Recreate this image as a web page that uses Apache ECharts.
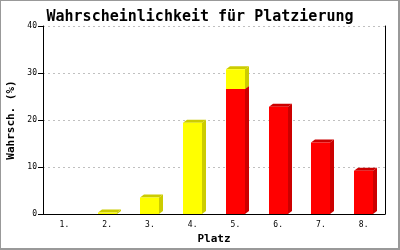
<!DOCTYPE html>
<html>
<head>
<meta charset="utf-8">
<script src="https://cdn.jsdelivr.net/npm/echarts@6/dist/echarts.min.js"></script>
<style>
html,body{margin:0;padding:0;background:#fff;}
#wrap{position:relative;width:400px;height:250px;}
#chart{position:absolute;left:0;top:0;width:400px;height:250px;}
#frame{position:absolute;left:0;top:0;width:400px;height:250px;box-sizing:border-box;border-left:1px solid #999;border-top:1px solid #999;border-right:2px solid #999;border-bottom:2px solid #999;pointer-events:none;}
</style>
</head>
<body>
<div id="wrap"><div id="chart"></div><div id="frame"></div></div>
<script>
var categories = ['1.', '2.', '3.', '4.', '5.', '6.', '7.', '8.'];
var redValues = [0, 0, 0, 0, 26.6, 22.8, 15.2, 9.2];
var yellowValues = [0, 0.3, 3.5, 19.4, 4.2, 0, 0, 0];
var yTicks = [0, 10, 20, 30, 40];

var FONT = '"DejaVu Sans Mono", "Liberation Mono", monospace';

function makeData(base, vals) {
  return vals.map(function (v, i) {
    var b = base ? base[i] : 0;
    return [i, b, b + v];
  });
}

function render3d(front, dark) {
  return function (params, api) {
    var i = api.value(0);
    var b = api.value(1);
    var t = api.value(2);
    if (t - b <= 0) return null;
    var p0 = api.coord([i, b]);
    var p1 = api.coord([i, t]);
    var w = 19, dx = 4, dy = 3;
    var left = Math.round(p0[0] - 9.5);
    var right = left + w;
    var bottom = p0[1];
    var top = p1[1];
    return {
      type: 'group',
      children: [
        { type: 'polygon', shape: { points: [[right, top], [right + dx, top - dy], [right + dx, bottom - dy], [right, bottom]] }, style: { fill: dark } },
        { type: 'polygon', shape: { points: [[left, top], [left + dx, top - dy], [right + dx, top - dy], [right, top]] }, style: { fill: dark } },
        { type: 'rect', shape: { x: left, y: top, width: w, height: bottom - top }, style: { fill: front } }
      ]
    };
  };
}

var chart = echarts.init(document.getElementById('chart'), null, { renderer: 'canvas' });
chart.setOption({
  animation: false,
  backgroundColor: '#fff',
  title: {
    text: 'Wahrscheinlichkeit für Platzierung',
    left: 'center',
    top: 5,
    textStyle: { fontFamily: FONT, fontSize: 15, fontWeight: 'bold', color: '#000' }
  },
  grid: { left: 43, right: 15, top: 26, bottom: 36, containLabel: false, outerBoundsMode: 'none' },
  xAxis: {
    type: 'category',
    data: categories,
    name: 'Platz',
    nameLocation: 'middle',
    nameGap: 19,
    nameTextStyle: { fontFamily: FONT, fontSize: 11, fontWeight: 'bold', color: '#000' },
    axisLine: { lineStyle: { color: '#000', width: 1 } },
    axisTick: { show: false },
    axisLabel: { fontFamily: FONT, fontSize: 8, color: '#000', margin: 7 },
    splitLine: { show: false }
  },
  yAxis: [{
    type: 'value',
    min: yTicks[0],
    max: yTicks[yTicks.length - 1],
    interval: 10,
    name: 'Wahrsch. (%)',
    nameLocation: 'middle',
    nameGap: 25,
    nameTextStyle: { fontFamily: FONT, fontSize: 11, fontWeight: 'bold', color: '#000' },
    axisLine: { show: true, lineStyle: { color: '#000', width: 1 } },
    axisTick: { show: true, length: 5, lineStyle: { color: '#000' } },
    axisLabel: { fontFamily: FONT, fontSize: 8, color: '#000', margin: 6 },
    splitLine: { show: true, lineStyle: { color: '#c0c0c0', type: [2, 3], width: 1 } }
  }, {
    type: 'value',
    position: 'right',
    min: yTicks[0],
    max: yTicks[yTicks.length - 1],
    interval: 10,
    axisLine: { show: true, lineStyle: { color: '#000', width: 1 } },
    axisTick: { show: false },
    axisLabel: { show: false },
    splitLine: { show: false }
  }],
  series: [{
    type: 'custom',
    name: 'rot',
    renderItem: render3d('#ff0000', '#cc0000'),
    data: makeData(null, redValues),
    encode: { x: 0, y: [1, 2] },
    z: 2
  }, {
    type: 'custom',
    name: 'gelb',
    renderItem: render3d('#ffff00', '#cccc00'),
    data: makeData(redValues, yellowValues),
    encode: { x: 0, y: [1, 2] },
    z: 3
  }]
});
</script>
</body>
</html>
